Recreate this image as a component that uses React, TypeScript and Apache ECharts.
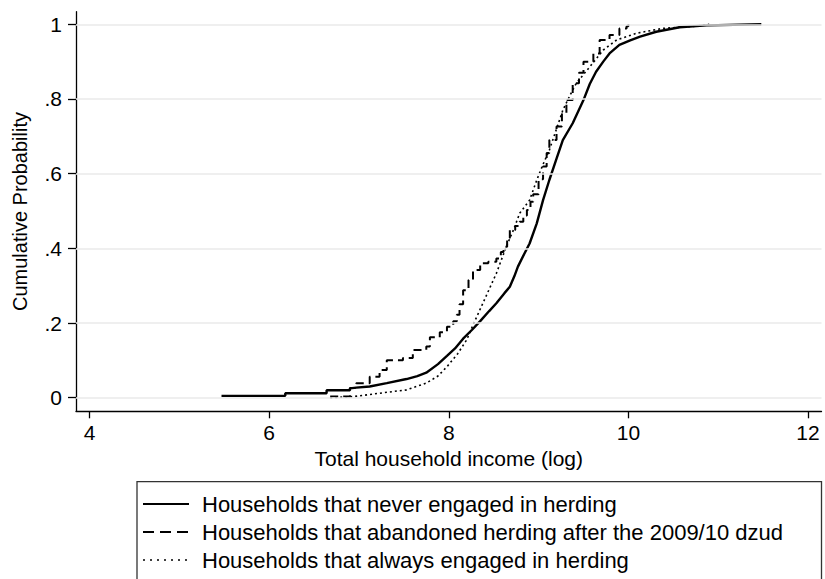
import React, { useEffect, useRef } from "react";
import * as echarts from "echarts";

const seriesNames = [
  "Households that never engaged in herding",
  "Households that abandoned herding after the 2009/10 dzud",
  "Households that always engaged in herding",
];

// [log income, cumulative probability]
const neverEngaged: [number, number][] = [
  [5.47, 0.005], [6.18, 0.005], [6.18, 0.012], [6.64, 0.012], [6.64, 0.02],
  [6.9, 0.02], [6.9, 0.025], [6.97, 0.027],
  [7.12, 0.03], [7.31, 0.039], [7.53, 0.05], [7.65, 0.058], [7.75, 0.067],
  [7.88, 0.09], [7.98, 0.112], [8.07, 0.132], [8.16, 0.158], [8.26, 0.182],
  [8.35, 0.205], [8.45, 0.232], [8.53, 0.253], [8.62, 0.28], [8.68, 0.297],
  [8.73, 0.325], [8.77, 0.351], [8.84, 0.385], [8.9, 0.413], [8.98, 0.467],
  [9.05, 0.529], [9.12, 0.583], [9.2, 0.64], [9.27, 0.69], [9.38, 0.735],
  [9.5, 0.797], [9.57, 0.84], [9.64, 0.873], [9.72, 0.9], [9.79, 0.922],
  [9.9, 0.945], [10.02, 0.957], [10.13, 0.967], [10.31, 0.98], [10.57, 0.992],
  [10.87, 0.997], [11.48, 1.0],
];

const abandoned: [number, number][] = [
  [6.68, 0.003], [6.9, 0.026], [6.97, 0.039], [7.12, 0.056], [7.23, 0.074],
  [7.31, 0.1], [7.49, 0.106], [7.6, 0.128], [7.75, 0.137], [7.79, 0.162],
  [7.9, 0.175], [7.98, 0.19], [8.05, 0.205], [8.09, 0.222], [8.12, 0.25],
  [8.16, 0.288], [8.22, 0.315], [8.27, 0.342], [8.35, 0.36], [8.44, 0.364],
  [8.53, 0.373], [8.58, 0.39], [8.61, 0.404], [8.65, 0.428], [8.68, 0.449],
  [8.74, 0.46], [8.79, 0.471], [8.83, 0.488], [8.87, 0.503], [8.91, 0.525],
  [8.94, 0.545], [9.0, 0.585], [9.05, 0.619], [9.09, 0.655], [9.12, 0.69],
  [9.2, 0.726], [9.26, 0.76], [9.31, 0.797], [9.38, 0.842], [9.45, 0.87],
  [9.5, 0.9], [9.61, 0.922], [9.68, 0.958], [9.79, 0.971], [9.9, 0.989],
  [9.98, 0.995], [10.0, 1.0],
];

const alwaysEngaged: [number, number][] = [
  [6.68, 0.0], [6.94, 0.003], [7.23, 0.012], [7.53, 0.021], [7.75, 0.039],
  [7.88, 0.058], [7.98, 0.083], [8.1, 0.118], [8.2, 0.155], [8.28, 0.2],
  [8.38, 0.253], [8.53, 0.333], [8.64, 0.404], [8.72, 0.449], [8.79, 0.494],
  [8.9, 0.529], [8.98, 0.583], [9.05, 0.625], [9.12, 0.663], [9.2, 0.72],
  [9.27, 0.77], [9.35, 0.81], [9.42, 0.842], [9.57, 0.886], [9.72, 0.931],
  [9.87, 0.958], [10.09, 0.976], [10.38, 0.989], [10.76, 0.995], [10.9, 1.0],
];

const xTicks = [4, 6, 8, 10, 12];
const yTicks = [0, 0.2, 0.4, 0.6, 0.8, 1];

const FONT = "'Liberation Sans', Arial, Helvetica, sans-serif";

export default function App() {
  const ref = useRef<HTMLDivElement>(null);

  useEffect(() => {
    document.body.style.margin = "0";
    if (!ref.current) return;
    const chart = echarts.init(ref.current, undefined, { renderer: "svg" });

    const yFmt = (v: number) => {
      if (Math.abs(v) < 1e-9) return "0";
      if (Math.abs(v - 1) < 1e-9) return "1";
      return "." + String(Math.round(v * 10));
    };

    chart.setOption({
      animation: false,
      backgroundColor: "#ffffff",
      textStyle: { fontFamily: FONT, color: "#000" },
      grid: {
        left: 76,
        right: 3.5,
        top: 11.7,
        bottom: 167.7,
        containLabel: false,
        outerBoundsMode: "none",
      },
      xAxis: {
        type: "value",
        min: 3.85,
        max: 12.15,
        name: "Total household income (log)",
        nameLocation: "middle",
        nameGap: 35,
        nameTextStyle: { fontSize: 21, color: "#000", fontFamily: FONT },
        axisLine: { show: true, onZero: false, lineStyle: { color: "#000", width: 1.3 } },
        axisTick: { show: true, customValues: xTicks, length: 7, lineStyle: { color: "#000", width: 1.3 } },
        axisLabel: {
          customValues: xTicks,
          fontSize: 21,
          color: "#000",
          margin: 11,
          fontFamily: FONT,
        },
        splitLine: { show: false },
      },
      yAxis: {
        type: "value",
        min: -0.0364,
        max: 1.0337,
        name: "Cumulative Probability",
        nameLocation: "middle",
        nameGap: 46,
        nameTextStyle: { fontSize: 20, color: "#000", fontFamily: FONT },
        axisLine: { show: true, onZero: false, lineStyle: { color: "#000", width: 1.3 } },
        axisTick: { show: true, customValues: yTicks, length: 8, lineStyle: { color: "#000", width: 1.3 } },
        axisLabel: {
          customValues: yTicks,
          fontSize: 21,
          color: "#000",
          margin: 14,
          fontFamily: FONT,
          formatter: yFmt,
        },
        splitLine: { show: false },
      },
      legend: {
        orient: "vertical",
        left: 142,
        top: 493,
        padding: 0,
        itemWidth: 46,
        itemHeight: 14,
        itemGap: 6,
        data: [
          { name: seriesNames[0] },
          { name: seriesNames[1], lineStyle: { type: [11, 6], width: 2 } },
          { name: seriesNames[2], lineStyle: { type: [2, 5], width: 1.6 } },
        ],
        itemStyle: { opacity: 0 },
        textStyle: { fontSize: 22, lineHeight: 22, color: "#000", fontFamily: FONT, padding: [0, 0, 0, 8] },
        selectedMode: false,
      },
      graphic: [
        {
          type: "rect",
          shape: { x: 137, y: 481.7, width: 684.5, height: 130 },
          style: { fill: "none", stroke: "#333", lineWidth: 1.3 },
          silent: true,
        },
      ],
      series: [
        {
          type: "line",
          name: "grid",
          data: [],
          silent: true,
          z: 1,
          markLine: {
            silent: true,
            symbol: "none",
            label: { show: false },
            lineStyle: { color: "#eaeaea", width: 1.5, type: "solid" },
            data: yTicks.map((v) => ({ yAxis: v })),
          },
        },
        {
          type: "line",
          name: seriesNames[0],
          data: neverEngaged,
          showSymbol: false,
          symbol: "none",
          z: 3,
          lineStyle: { color: "#000", width: 2.4, type: "solid" },
          itemStyle: { color: "#000" },
        },
        {
          type: "line",
          name: seriesNames[1],
          data: abandoned,
          step: "end",
          showSymbol: false,
          symbol: "none",
          z: 3,
          lineStyle: { color: "#000", width: 2, type: [8, 5] },
          itemStyle: { color: "#000" },
        },
        {
          type: "line",
          name: seriesNames[2],
          data: alwaysEngaged,
          showSymbol: false,
          symbol: "none",
          z: 3,
          lineStyle: { color: "#000", width: 1.6, type: [2, 3] },
          itemStyle: { color: "#000" },
        },
      ],
    });

    return () => chart.dispose();
  }, []);

  return <div ref={ref} style={{ width: 825, height: 579 }} />;
}
